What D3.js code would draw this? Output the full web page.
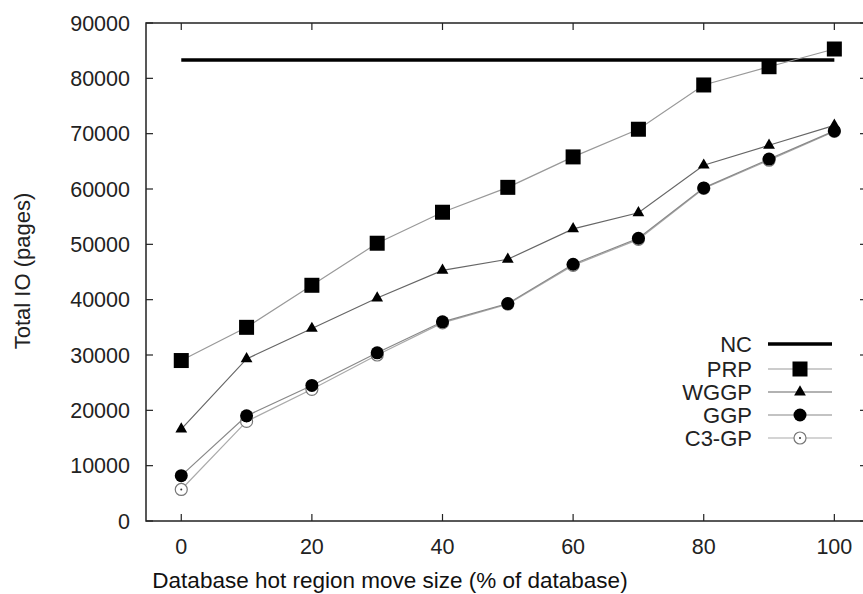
<!DOCTYPE html>
<html><head><meta charset="utf-8">
<script src="https://cdn.jsdelivr.net/npm/d3@7/dist/d3.min.js"></script>
<style>
html,body{margin:0;padding:0;background:#fff;}
svg{display:block;font-family:"Liberation Sans",Arial,sans-serif;}
</style></head><body>
<svg id="chart" width="863" height="594"></svg>
<script>
const xValues = [0, 10, 20, 30, 40, 50, 60, 70, 80, 90, 100];
const ncValue = 83300;
const prp  = [29000, 35000, 42600, 50200, 55800, 60300, 65800, 70800, 78800, 82100, 85300];
const wggp = [16600, 29300, 34800, 40300, 45300, 47300, 52800, 55700, 64300, 67900, 71500];
const ggp  = [8200, 19000, 24500, 30400, 36000, 39300, 46400, 51100, 60200, 65400, 70500];
const c3gp = [5700, 18000, 23800, 30000, 35800, 39200, 46200, 50900, 60100, 65200, 70400];
const xTicks = [0, 20, 40, 60, 80, 100];
const yTicks = [0, 10000, 20000, 30000, 40000, 50000, 60000, 70000, 80000, 90000];
const legendNames = ["NC", "PRP", "WGGP", "GGP", "C3-GP"];

const svg = d3.select("#chart");
const L = 146, R = 867, T = 23, B = 521;
const x = d3.scaleLinear().domain([-5.4, 105]).range([L, R]);
const y = d3.scaleLinear().domain([0, 90000]).range([B, T]);

const FONT = 21.5;
const tickLen = 7;
const g = svg.append("g");
yTicks.forEach(v => {
  g.append("line").attr("x1", L).attr("x2", L + tickLen).attr("y1", y(v)).attr("y2", y(v)).attr("stroke", "#222").attr("stroke-width", 1.2);
  g.append("line").attr("x1", R).attr("x2", R - tickLen).attr("y1", y(v)).attr("y2", y(v)).attr("stroke", "#222").attr("stroke-width", 1.2);
  g.append("text").attr("x", 130).attr("y", y(v)).attr("dy", "0.36em").attr("text-anchor", "end")
    .attr("font-size", FONT).attr("fill", "#222").text(v);
});
xTicks.forEach(v => {
  g.append("line").attr("x1", x(v)).attr("x2", x(v)).attr("y1", B).attr("y2", B - tickLen).attr("stroke", "#222").attr("stroke-width", 1.2);
  g.append("line").attr("x1", x(v)).attr("x2", x(v)).attr("y1", T).attr("y2", T + tickLen).attr("stroke", "#222").attr("stroke-width", 1.2);
  g.append("text").attr("x", x(v)).attr("y", 546).attr("dy", "0.36em").attr("text-anchor", "middle")
    .attr("font-size", FONT).attr("fill", "#222").text(v);
});
svg.append("rect").attr("x", L).attr("y", T).attr("width", R - L).attr("height", B - T)
  .attr("fill", "none").attr("stroke", "#222").attr("stroke-width", 1.5);

svg.append("text").attr("x", 390).attr("y", 580).attr("dy", "0.36em").attr("text-anchor", "middle")
  .attr("font-size", 22.5).attr("fill", "#111").text("Database hot region move size (% of database)");
svg.append("text").attr("transform", "translate(22,271) rotate(-90)").attr("dy", "0.36em").attr("text-anchor", "middle")
  .attr("font-size", 22).attr("fill", "#222").text("Total IO (pages)");

svg.append("line").attr("x1", x(0)).attr("x2", x(100)).attr("y1", y(ncValue)).attr("y2", y(ncValue))
  .attr("stroke", "#000").attr("stroke-width", 3.5);

const line = d3.line().x((d, i) => x(xValues[i])).y(d => y(d));
function drawSeries(vals, lineColor, marker) {
  svg.append("path").datum(vals).attr("d", line).attr("fill", "none").attr("stroke", lineColor).attr("stroke-width", 1.2);
  vals.forEach((v, i) => marker(x(xValues[i]), y(v)));
}
function square(cx, cy) {
  svg.append("rect").attr("x", cx - 7.5).attr("y", cy - 7.5).attr("width", 15).attr("height", 15).attr("fill", "#000");
}
function triangle(cx, cy) {
  svg.append("path").attr("d", d3.symbol().type(d3.symbolTriangle).size(60)()).attr("transform", `translate(${cx},${cy})`).attr("fill", "#000");
}
function dot(cx, cy) {
  svg.append("circle").attr("cx", cx).attr("cy", cy).attr("r", 6.5).attr("fill", "#000");
}
function ring(cx, cy) {
  svg.append("circle").attr("cx", cx).attr("cy", cy).attr("r", 6).attr("fill", "#fff").attr("stroke", "#777").attr("stroke-width", 1.2);
  svg.append("circle").attr("cx", cx).attr("cy", cy).attr("r", 1).attr("fill", "#333");
}
drawSeries(c3gp, "#aaa", ring);
drawSeries(ggp, "#888", dot);
drawSeries(wggp, "#666", triangle);
drawSeries(prp, "#999", square);

const legY = [344, 369, 392, 415, 438];
const markers = [null, square, triangle, dot, ring];
const lineCols = ["#000", "#999", "#666", "#888", "#aaa"];
legendNames.forEach((name, i) => {
  svg.append("text").attr("x", 752).attr("y", legY[i]).attr("dy", "0.36em").attr("text-anchor", "end")
    .attr("font-size", 22).attr("fill", "#222").text(name);
  svg.append("line").attr("x1", 768).attr("x2", 832).attr("y1", legY[i]).attr("y2", legY[i])
    .attr("stroke", lineCols[i]).attr("stroke-width", i === 0 ? 3.5 : 1.2);
  if (markers[i]) markers[i](800, legY[i]);
});
</script>
</body></html>
